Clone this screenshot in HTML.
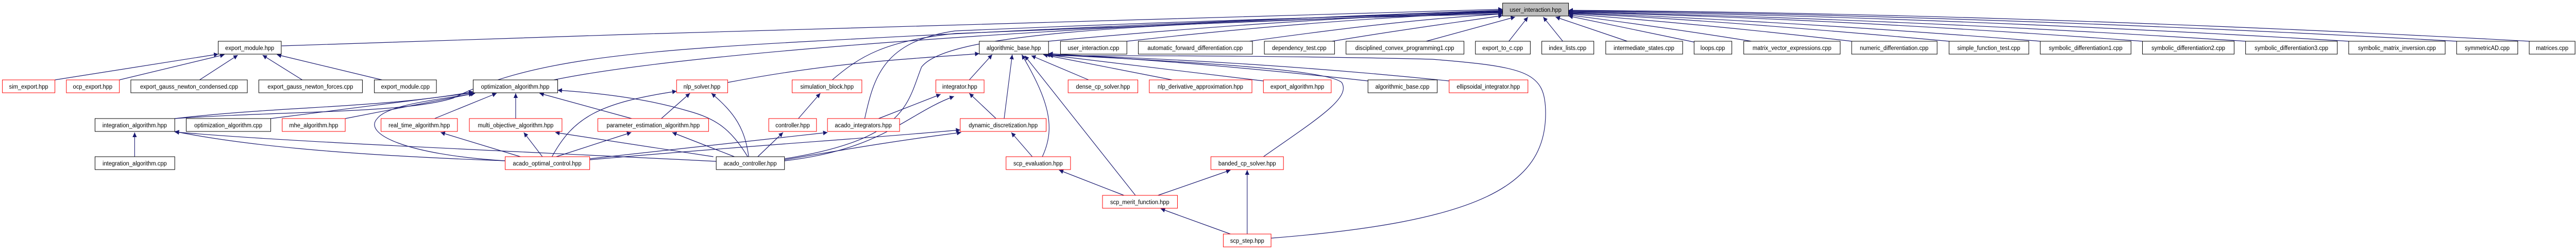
<!DOCTYPE html>
<html><head><meta charset="utf-8"><style>
html,body{margin:0;padding:0;background:#fff;width:100%;height:100%;overflow:hidden;}
svg{display:block;position:absolute;left:0;top:0;width:100vw;height:100vh;}
text{font-family:"Liberation Sans",sans-serif;font-size:12px;fill:#000;}
.e{fill:none;stroke:#191970;stroke-width:1.2;vector-effect:non-scaling-stroke;}
.b{fill:#fff;stroke:#000;stroke-width:1;vector-effect:non-scaling-stroke;}
.r{fill:#fff;stroke:#ff0000;stroke-width:1;vector-effect:non-scaling-stroke;}
</style></head><body>
<svg viewBox="0 0 5395 485" preserveAspectRatio="none" xmlns="http://www.w3.org/2000/svg">
<defs><marker id="a" viewBox="0 0 10 10" refX="10" refY="5" markerWidth="9" markerHeight="9" orient="auto" markerUnits="userSpaceOnUse"><path d="M0,0L10,5L0,10z" fill="#191970"/></marker></defs>
<g class="e" marker-end="url(#a)">
<path d="M590,89 C1500,60 2600,30 3147,18"/>
<path d="M2196,80 C2600,45 2900,30 3147,22"/>
<path d="M2360,80 C2700,45 2950,30 3147,24"/>
<path d="M2617,80 C2850,50 3000,35 3147,27"/>
<path d="M2790,80 C2950,55 3080,40 3147,30"/>
<path d="M2987,80 L3173,33"/>
<path d="M3160,80 L3200,33"/>
<path d="M3273,80 L3232,33"/>
<path d="M3408,80 L3258,33"/>
<path d="M3550,82 L3285,31"/>
<path d="M3668,80 C3500,55 3360,38 3285,29"/>
<path d="M3878,80 C3600,50 3400,35 3285,27"/>
<path d="M4082,80 C3700,48 3450,32 3285,26"/>
<path d="M4273,80 C3800,45 3450,30 3285,25"/>
<path d="M4487,80 C3900,40 3500,28 3285,24"/>
<path d="M4703,80 C4000,38 3500,27 3285,23"/>
<path d="M4919,80 C4100,35 3550,25 3285,22"/>
<path d="M5145,80 C4200,32 3550,23 3285,21"/>
<path d="M5297,80 C4300,30 3600,22 3285,20"/>
<path d="M1160,155 C1500,90 2500,40 3147,20"/>
<path d="M366,230 C600,215 850,220 950,190 C1100,120 1300,100 1700,80 C2300,50 2800,32 3147,21"/>
<path d="M1743,155 C1800,110 1850,80 2000,65 C2600,40 2900,30 3147,23"/>
<path d="M1811,230 C1830,150 1850,80 2000,60 C2500,40 2900,30 3147,25"/>
<path d="M1643,308 C1900,270 1900,200 1930,130 C1980,70 2300,45 3147,27"/>
<path d="M115,155 L457,105"/>
<path d="M250,155 L470,106"/>
<path d="M418,155 L498,107"/>
<path d="M633,155 L550,107"/>
<path d="M800,155 L580,106"/>
<path d="M366,230 C600,205 800,210 991,178"/>
<path d="M567,230 L991,180"/>
<path d="M723,230 L995,181"/>
<path d="M910,230 L1040,181"/>
<path d="M1080,230 L1080,181"/>
<path d="M1323,230 L1130,181"/>
<path d="M1566,304 C1530,250 1500,230 1440,215 C1350,190 1250,180 1168,175"/>
<path d="M1058,312 C850,300 760,260 790,230 C810,205 900,195 991,182"/>
<path d="M1524,160 C1750,120 1900,115 2051,104"/>
<path d="M2030,155 L2078,106"/>
<path d="M2103,230 L2120,106"/>
<path d="M2183,304 C2210,250 2200,200 2140,106"/>
<path d="M2378,379 L2146,108"/>
<path d="M2280,155 L2160,108"/>
<path d="M2455,155 L2185,106"/>
<path d="M2646,157 L2190,106"/>
<path d="M2865,157 C2600,130 2400,115 2196,104"/>
<path d="M3035,157 C2700,125 2400,112 2196,106"/>
<path d="M2646,304 C2760,230 2830,190 2810,160 C2780,135 2500,120 2196,106"/>
<path d="M2662,462 C3100,430 3237,360 3237,220 C3237,140 3200,130 3000,115 C2700,108 2400,108 2196,108"/>
<path d="M1058,312 C700,300 500,280 366,255"/>
<path d="M1500,313 C1000,290 600,275 366,256"/>
<path d="M1090,304 L923,257"/>
<path d="M1136,304 L1097,257"/>
<path d="M1165,304 L1322,257"/>
<path d="M1538,304 L1408,257"/>
<path d="M1494,304 L1163,257"/>
<path d="M1156,304 C1200,230 1250,200 1417,177"/>
<path d="M1385,230 L1445,181"/>
<path d="M1568,304 C1560,250 1540,220 1490,181"/>
<path d="M1672,230 L1718,181"/>
<path d="M1587,304 L1640,257"/>
<path d="M1235,308 L1733,257"/>
<path d="M1235,310 C1600,280 1800,270 2011,252"/>
<path d="M1643,310 C1800,285 1900,270 2013,257"/>
<path d="M1643,312 C1850,290 1900,220 1998,187"/>
<path d="M1840,230 L1970,183"/>
<path d="M2086,230 L2030,181"/>
<path d="M2162,304 L2118,257"/>
<path d="M2354,379 L2218,330"/>
<path d="M2425,379 L2577,330"/>
<path d="M2612,454 L2612,330"/>
<path d="M2577,454 L2431,405"/>
<path d="M282,304 L282,257"/>
</g>
<g>
<rect class="b" x="3147" y="6" width="138" height="25" style="fill:#bfbfbf"/>
<text x="3216" y="23" text-anchor="middle">user_interaction.hpp</text>
<rect class="b" x="457" y="80" width="132" height="25"/><text x="523" y="97" text-anchor="middle">export_module.hpp</text>
<rect class="b" x="2051" y="80" width="145" height="25"/><text x="2123" y="97" text-anchor="middle">algorithmic_base.hpp</text>
<rect class="b" x="2221" y="80" width="139" height="25"/><text x="2290" y="97" text-anchor="middle">user_interaction.cpp</text>
<rect class="b" x="2384" y="80" width="239" height="25"/><text x="2503" y="97" text-anchor="middle">automatic_forward_differentiation.cpp</text>
<rect class="b" x="2648" y="80" width="147" height="25"/><text x="2721" y="97" text-anchor="middle">dependency_test.cpp</text>
<rect class="b" x="2819" y="80" width="247" height="25"/><text x="2942" y="97" text-anchor="middle">disciplined_convex_programming1.cpp</text>
<rect class="b" x="3090" y="80" width="115" height="25"/><text x="3147" y="97" text-anchor="middle">export_to_c.cpp</text>
<rect class="b" x="3229" y="80" width="109" height="25"/><text x="3283" y="97" text-anchor="middle">index_lists.cpp</text>
<rect class="b" x="3363" y="80" width="161" height="25"/><text x="3443" y="97" text-anchor="middle">intermediate_states.cpp</text>
<rect class="b" x="3548" y="80" width="79" height="25"/><text x="3587" y="97" text-anchor="middle">loops.cpp</text>
<rect class="b" x="3652" y="80" width="202" height="25"/><text x="3753" y="97" text-anchor="middle">matrix_vector_expressions.cpp</text>
<rect class="b" x="3878" y="80" width="179" height="25"/><text x="3967" y="97" text-anchor="middle">numeric_differentiation.cpp</text>
<rect class="b" x="4082" y="80" width="167" height="25"/><text x="4165" y="97" text-anchor="middle">simple_function_test.cpp</text>
<rect class="b" x="4273" y="80" width="190" height="25"/><text x="4368" y="97" text-anchor="middle">symbolic_differentiation1.cpp</text>
<rect class="b" x="4487" y="80" width="192" height="25"/><text x="4583" y="97" text-anchor="middle">symbolic_differentiation2.cpp</text>
<rect class="b" x="4703" y="80" width="192" height="25"/><text x="4799" y="97" text-anchor="middle">symbolic_differentiation3.cpp</text>
<rect class="b" x="4919" y="80" width="202" height="25"/><text x="5020" y="97" text-anchor="middle">symbolic_matrix_inversion.cpp</text>
<rect class="b" x="5145" y="80" width="128" height="25"/><text x="5209" y="97" text-anchor="middle">symmetricAD.cpp</text>
<rect class="b" x="5297" y="80" width="96" height="25"/><text x="5345" y="97" text-anchor="middle">matrices.cpp</text>
<rect class="r" x="5" y="155" width="110" height="25"/><text x="60" y="172" text-anchor="middle">sim_export.hpp</text>
<rect class="r" x="139" y="155" width="111" height="25"/><text x="194" y="172" text-anchor="middle">ocp_export.hpp</text>
<rect class="b" x="274" y="155" width="244" height="25"/><text x="396" y="172" text-anchor="middle">export_gauss_newton_condensed.cpp</text>
<rect class="b" x="542" y="155" width="217" height="25"/><text x="650" y="172" text-anchor="middle">export_gauss_newton_forces.cpp</text>
<rect class="b" x="784" y="155" width="130" height="25"/><text x="849" y="172" text-anchor="middle">export_module.cpp</text>
<rect class="b" x="991" y="155" width="177" height="25"/><text x="1079" y="172" text-anchor="middle">optimization_algorithm.hpp</text>
<rect class="r" x="1417" y="155" width="107" height="25"/><text x="1470" y="172" text-anchor="middle">nlp_solver.hpp</text>
<rect class="r" x="1659" y="155" width="146" height="25"/><text x="1732" y="172" text-anchor="middle">simulation_block.hpp</text>
<rect class="r" x="1960" y="155" width="101" height="25"/><text x="2010" y="172" text-anchor="middle">integrator.hpp</text>
<rect class="r" x="2237" y="155" width="146" height="25"/><text x="2310" y="172" text-anchor="middle">dense_cp_solver.hpp</text>
<rect class="r" x="2407" y="155" width="215" height="25"/><text x="2514" y="172" text-anchor="middle">nlp_derivative_approximation.hpp</text>
<rect class="r" x="2646" y="155" width="142" height="25"/><text x="2717" y="172" text-anchor="middle">export_algorithm.hpp</text>
<rect class="b" x="2865" y="155" width="145" height="25"/><text x="2937" y="172" text-anchor="middle">algorithmic_base.cpp</text>
<rect class="r" x="3035" y="155" width="165" height="25"/><text x="3117" y="172" text-anchor="middle">ellipsoidal_integrator.hpp</text>
<rect class="b" x="199" y="230" width="167" height="25"/><text x="282" y="247" text-anchor="middle">integration_algorithm.hpp</text>
<rect class="b" x="390" y="230" width="177" height="25"/><text x="478" y="247" text-anchor="middle">optimization_algorithm.cpp</text>
<rect class="r" x="591" y="230" width="132" height="25"/><text x="657" y="247" text-anchor="middle">mhe_algorithm.hpp</text>
<rect class="r" x="798" y="230" width="160" height="25"/><text x="878" y="247" text-anchor="middle">real_time_algorithm.hpp</text>
<rect class="r" x="983" y="230" width="194" height="25"/><text x="1080" y="247" text-anchor="middle">multi_objective_algorithm.hpp</text>
<rect class="r" x="1252" y="230" width="232" height="25"/><text x="1368" y="247" text-anchor="middle">parameter_estimation_algorithm.hpp</text>
<rect class="r" x="1610" y="230" width="100" height="25"/><text x="1660" y="247" text-anchor="middle">controller.hpp</text>
<rect class="r" x="1733" y="230" width="151" height="25"/><text x="1808" y="247" text-anchor="middle">acado_integrators.hpp</text>
<rect class="r" x="2011" y="230" width="180" height="25"/><text x="2101" y="247" text-anchor="middle">dynamic_discretization.hpp</text>
<rect class="b" x="199" y="304" width="167" height="25"/><text x="282" y="321" text-anchor="middle">integration_algorithm.cpp</text>
<rect class="r" x="1058" y="304" width="177" height="25"/><text x="1146" y="321" text-anchor="middle">acado_optimal_control.hpp</text>
<rect class="b" x="1500" y="304" width="143" height="25"/><text x="1571" y="321" text-anchor="middle">acado_controller.hpp</text>
<rect class="r" x="2107" y="304" width="135" height="25"/><text x="2174" y="321" text-anchor="middle">scp_evaluation.hpp</text>
<rect class="r" x="2536" y="304" width="152" height="25"/><text x="2612" y="321" text-anchor="middle">banded_cp_solver.hpp</text>
<rect class="r" x="2309" y="379" width="157" height="25"/><text x="2387" y="396" text-anchor="middle">scp_merit_function.hpp</text>
<rect class="r" x="2562" y="454" width="100" height="25"/><text x="2612" y="471" text-anchor="middle">scp_step.hpp</text>
</g>
</svg>
</body></html>
